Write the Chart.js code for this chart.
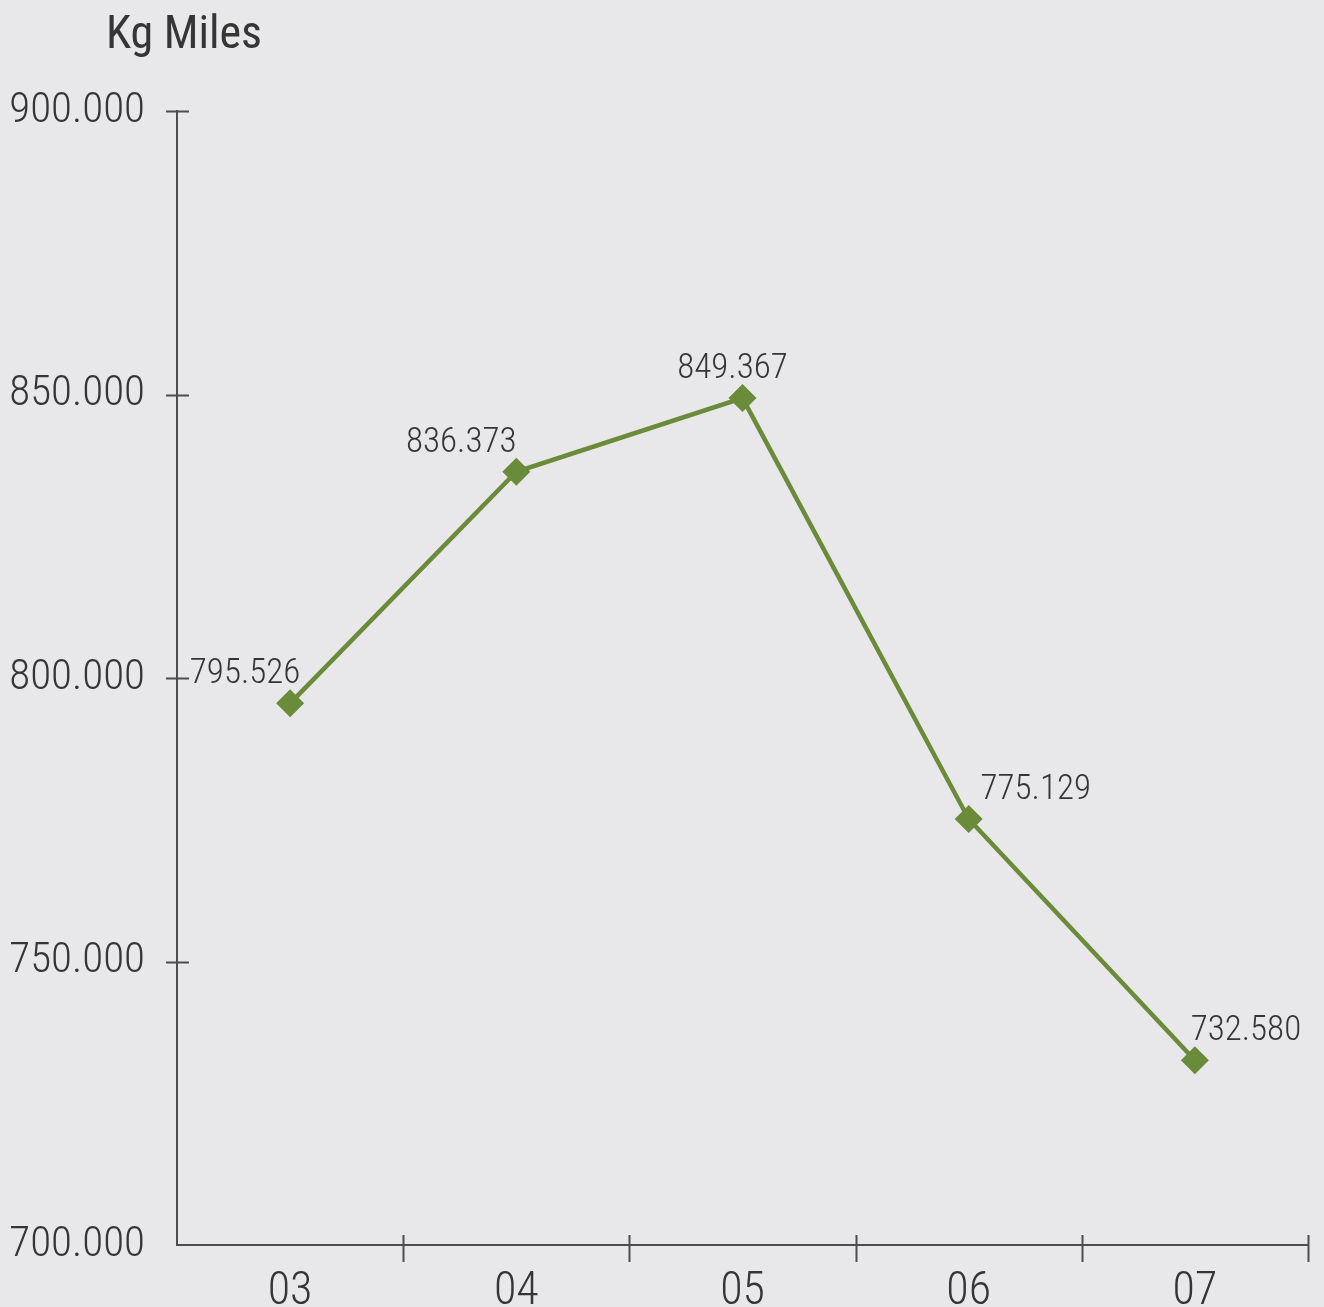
<!DOCTYPE html>
<html><head><meta charset="utf-8">
<script src="https://cdn.jsdelivr.net/npm/chart.js@4.4.1/dist/chart.umd.min.js"></script>
<style>
html,body{margin:0;padding:0;background:#e8e8ea;}
#wrap{width:1324px;height:1307px;position:relative;}
canvas{display:block;}
</style>
</head><body><div id="wrap"><canvas id="c" width="1324" height="1307"></canvas></div>
<script>
// ---- data ----
const categories = ['03', '04', '05', '06', '07'];
const values = [795526, 836373, 849367, 775129, 732580];
const valueLabels = ['795.526', '836.373', '849.367', '775.129', '732.580'];
const yTickValues = [700000, 750000, 800000, 850000, 900000];
const yTickLabels = ['700.000', '750.000', '800.000', '850.000', '900.000'];
const unitLabel = 'Kg Miles';

// ---- style ----
const FONT = '"Roboto Condensed", Roboto, sans-serif';
const WEIGHT = '350';
const TEXT = '#353535';
const AXIS = '#4d4d4d';
const GREEN = '#6a8b39';
const labelShiftX = [-45, -55, -10, 67, 51];
const labelGap = 20;

const decorPlugin = {
  id: 'decor',
  afterDraw(chart) {
    const ctx = chart.ctx;
    const x = chart.scales.x, y = chart.scales.y;
    const area = chart.chartArea;
    ctx.save();
    ctx.strokeStyle = AXIS;
    ctx.lineWidth = 2;
    // y ticks crossing the axis
    yTickValues.forEach(v => {
      if (v === y.min) return;
      const py = Math.round(y.getPixelForValue(v)) + 0.5;
      ctx.beginPath();
      ctx.moveTo(area.left - 11, py);
      ctx.lineTo(area.left + 12, py);
      ctx.stroke();
    });
    // x ticks between categories
    const n = categories.length;
    for (let i = 0; i < n; i++) {
      const a = x.getPixelForValue(i);
      const b = i + 1 < n ? x.getPixelForValue(i + 1) : 2 * a - x.getPixelForValue(i - 1);
      const px = Math.round((a + b) / 2) + 0.5;
      ctx.beginPath();
      ctx.moveTo(px, area.bottom - 10);
      ctx.lineTo(px, area.bottom + 17);
      ctx.stroke();
    }
    // unit title
    ctx.fillStyle = TEXT;
    ctx.font = '400 46px ' + FONT;
    ctx.textAlign = 'center';
    ctx.textBaseline = 'alphabetic';
    ctx.fillText(unitLabel, area.left + 7, 48);
    // value labels
    ctx.font = WEIGHT + ' 35px ' + FONT;
    const meta = chart.getDatasetMeta(0);
    meta.data.forEach((pt, i) => {
      ctx.fillText(valueLabels[i], pt.x + labelShiftX[i], pt.y - labelGap);
    });
    ctx.restore();
  }
};

new Chart(document.getElementById('c'), {
  type: 'line',
  data: {
    labels: categories,
    datasets: [{
      data: values,
      borderColor: GREEN,
      borderWidth: 4.5,
      backgroundColor: GREEN,
      pointStyle: 'rectRot',
      pointRadius: 14,
      pointBorderWidth: 0,
      pointBackgroundColor: GREEN,
      tension: 0,
      fill: false
    }]
  },
  options: {
    responsive: false,
    animation: false,
    devicePixelRatio: 1,
    layout: { padding: { top: 111, right: 16, left: 0, bottom: 0 } },
    plugins: { legend: { display: false }, tooltip: { enabled: false }, title: { display: false } },
    scales: {
      x: {
        type: 'category',
        offset: true,
        grid: { display: false, drawTicks: false },
        border: { display: true, color: AXIS, width: 2 },
        ticks: { color: TEXT, font: { family: FONT, size: 46, weight: WEIGHT }, padding: 20, maxRotation: 0, autoSkip: false },
        afterFit(s) { s.height = 62; }
      },
      y: {
        min: 700000,
        max: 900000,
        grid: { display: false, drawTicks: false },
        border: { display: true, color: AXIS, width: 2 },
        afterBuildTicks(s) { s.ticks = yTickValues.map(v => ({ value: v })); },
        ticks: {
          color: TEXT,
          font: { family: FONT, size: 43, weight: WEIGHT },
          padding: 32,
          callback: (v) => yTickLabels[yTickValues.indexOf(v)]
        },
        afterFit(s) { s.width = 177; }
      }
    }
  },
  plugins: [decorPlugin]
});
</script>
</body></html>
